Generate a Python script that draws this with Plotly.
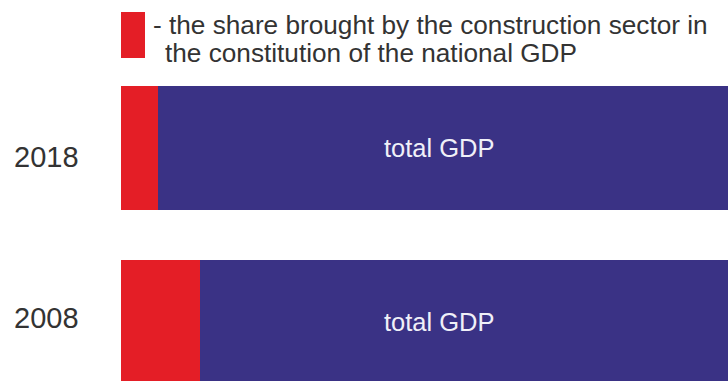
import plotly.graph_objects as go

years = ["2008", "2018"]
construction_share = [13.0, 6.1]
total_gdp = [100.0, 100.0]
rest = [t - c for t, c in zip(total_gdp, construction_share)]
legend_lines = ["- the share brought by the construction sector in",
                "the constitution of the national GDP"]
bar_label = "total GDP"

RED = "#E41E26"
BLUE = "#3A3285"
FONT = "Liberation Sans, Arial, sans-serif"
year_shift = {"2008": 4, "2018": -9}

fig = go.Figure()
fig.add_trace(go.Bar(y=years, x=construction_share, orientation="h",
                     marker=dict(color=RED, line=dict(width=0)), width=0.713,
                     showlegend=False, hoverinfo="skip"))
fig.add_trace(go.Bar(y=years, x=rest, orientation="h",
                     marker=dict(color=BLUE, line=dict(width=0)), width=0.713,
                     showlegend=False, hoverinfo="skip"))

annotations = []
for i, y in enumerate(years):
    annotations.append(dict(x=52.4, y=i, xref="x", yref="y", text=bar_label,
                            showarrow=False, yshift=0, xanchor="center", yanchor="middle",
                            font=dict(family=FONT, size=25.5, color="#F0F0F8")))
    annotations.append(dict(x=0, y=i, xref="x", yref="y", text=y,
                            showarrow=False, yshift=year_shift[y], xshift=-75, xanchor="center",
                            yanchor="middle",
                            font=dict(family=FONT, size=29, color="#333333")))
annotations.append(dict(x=0, y=1, xref="paper", yref="paper", xanchor="left", yanchor="top",
                        xshift=30, yshift=-8, text=legend_lines[0], showarrow=False, align="left",
                        font=dict(family=FONT, size=26.2, color="#333333")))
annotations.append(dict(x=0, y=1, xref="paper", yref="paper", xanchor="left", yanchor="top",
                        xshift=42, yshift=-36, text=legend_lines[1], showarrow=False, align="left",
                        font=dict(family=FONT, size=26.2, color="#333333")))

fig.update_layout(
    barmode="stack",
    width=728, height=381,
    margin=dict(l=121, r=0, t=0, b=0),
    paper_bgcolor="white", plot_bgcolor="white",
    xaxis=dict(range=[0, 100], visible=False, fixedrange=True),
    yaxis=dict(range=[-0.339, 1.8506], visible=False, type="category",
               categoryorder="array", categoryarray=years),
    annotations=annotations,
    shapes=[dict(type="rect", xref="paper", yref="paper", x0=0, x1=24/607,
                 y0=1 - 58/381, y1=1 - 12/381, fillcolor=RED, line=dict(width=0))],
    bargap=0,
)

fig.write_html("out.html")
